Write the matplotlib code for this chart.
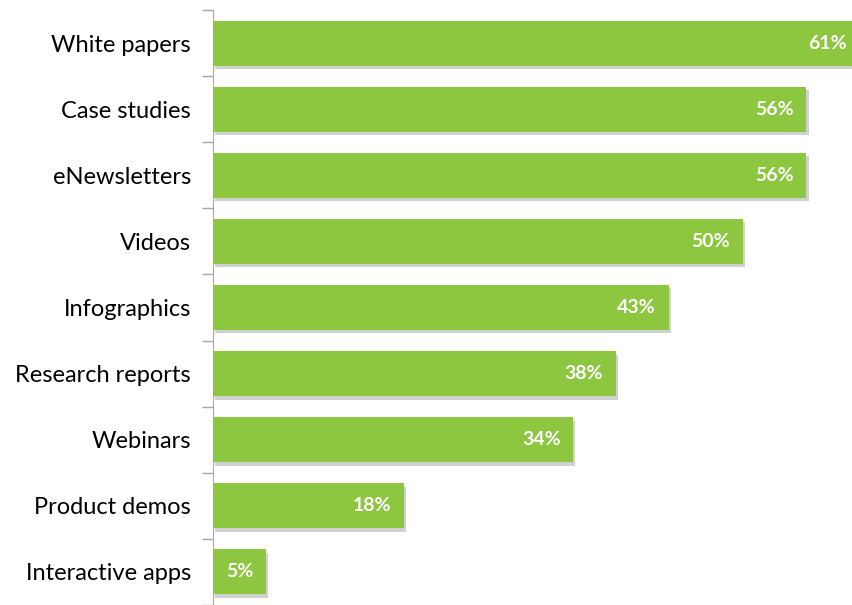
import matplotlib
matplotlib.use("Agg")
import matplotlib.pyplot as plt
import matplotlib.patheffects as pe
import numpy as np

# Content formats and share of respondents
categories = ["White papers", "Case studies", "eNewsletters", "Videos", "Infographics",
              "Research reports", "Webinars", "Product demos", "Interactive apps"]
values = [61, 56, 56, 50, 43, 38, 34, 18, 5]

plt.rcParams['font.family'] = ['Lato', 'DejaVu Sans']

fig = plt.figure(figsize=(8.52, 6.05), dpi=100)
ax = fig.add_axes([213 / 852, 0, 1 - 213 / 852, 595 / 605])

y = np.arange(len(categories))
bars = ax.barh(y, values, height=0.68, color="#8dc63f", zorder=3,
               path_effects=[pe.SimplePatchShadow(offset=(1.5, -2.5), shadow_rgbFace="#000000", alpha=0.18),
                             pe.Normal()])

for b, v in zip(bars, values):
    ax.text(b.get_width() - 1.2, b.get_y() + b.get_height() / 2, f"{v}%",
            ha="right", va="center", color="white", fontsize=14, fontweight="bold", zorder=4)

ax.set_xlim(0, 60.3)
ax.set_ylim(len(categories) - 0.57, -0.5)

# category labels between boundary ticks
ax.set_yticks(y)
ax.set_yticklabels(categories, fontsize=17)
ax.tick_params(axis="y", which="major", length=0, pad=16)
ax.set_yticks(np.arange(-0.5, len(categories), 1), minor=True)
ax.tick_params(axis="y", which="minor", length=8, color="#a6a6a6", width=1)

ax.set_xticks([])
for s in ["top", "right", "bottom"]:
    ax.spines[s].set_visible(False)
ax.spines["left"].set_color("#a6a6a6")

fig.savefig("out.png", dpi=100)
